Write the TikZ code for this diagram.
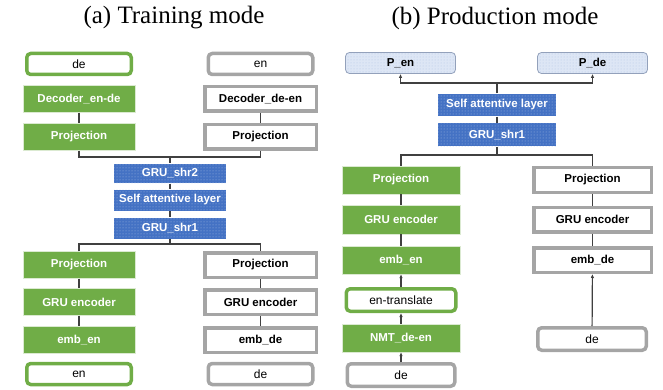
\documentclass[tikz,border=0pt]{standalone}
\usepackage{fontspec}
\setmainfont{Liberation Serif}
\setsansfont{Liberation Sans}
\usetikzlibrary{patterns,arrows.meta}
\definecolor{encgreen}{HTML}{70AD47}
\definecolor{boxgray}{HTML}{A5A5A5}
\definecolor{shrblue}{HTML}{4472C4}
\definecolor{outblue}{HTML}{DDE6F5}
\definecolor{linegray}{HTML}{404040}
\newcommand{\boxfont}{\sffamily\bfseries\fontsize{11.5}{13}\selectfont}
\tikzstyle{gblock} = [fill=encgreen, draw=white!75!encgreen, line width=0.4pt, rectangle, minimum height=27pt, minimum width=112pt, inner sep=2pt, text=white, font=\boxfont]
\tikzstyle{wblock} = [fill=white, draw=boxgray, line width=3.5pt, rectangle, minimum height=24.5pt, minimum width=111.5pt, inner sep=2pt, font=\boxfont]
\tikzstyle{sblock} = [fill=shrblue, postaction={pattern=dots, pattern color=white!50!shrblue}, rectangle, minimum height=21pt, minimum width=112pt, inner sep=2pt, text=white, font=\boxfont]
\tikzstyle{prob} = [fill=outblue, postaction={pattern=dots, pattern color=shrblue!40}, draw=shrblue!45!gray!70, line width=0.8pt, rounded corners=4pt, rectangle, minimum height=21pt, minimum width=110pt, font=\boxfont]
\tikzstyle{title} = [font=\fontsize{25}{29}\selectfont]
\tikzset{word/.style={
    fill=white, draw=#1, line width=3.5pt, rounded corners=4pt,
    minimum height=21pt, minimum width=104.5pt, inner sep=2pt,
    font=\sffamily\fontsize{12}{14}\selectfont
    }
}

\begin{document}
\begin{tikzpicture}[x=1pt, y=1pt, line width=1.2pt, draw=linegray, >={Latex[length=4pt,width=3.5pt]}]
    \useasboundingbox (0,0) rectangle (663,-390);

    % (a) training
    \node [title] (title_a) at (174,-18) {(a) Training mode};
    \node [word=encgreen] (de_a) at (79,-64) {de};
    \node [word=boxgray] (en_a) at (260.5,-64) {en};
    \node [gblock, below of=de_a, node distance=35pt] (dec_a1) {Decoder\_en-de};
    \node [wblock, below of=en_a, node distance=35pt] (dec_a2) {Decoder\_de-en};
    \node [gblock, below of=dec_a1, node distance=38pt] (proj_a1) {Projection};
    \node [wblock, below of=dec_a2, node distance=38pt] (proj_a2) {Projection};

    \node [sblock, minimum height=19pt] (shr2_a) at (170,-173.5) {GRU\_shr2};
    \node [sblock, below of=shr2_a, node distance=26.5pt] (att_a) {Self attentive layer};
    \node [sblock, below of=att_a, node distance=28pt] (shr1_a) {GRU\_shr1};

    \node [gblock] (proj_a3) at (79,-265) {Projection};
    \node [wblock] (proj_a4) at (260.5,-265) {Projection};
    \node [gblock, below of=proj_a3, node distance=37pt] (enc_a3) {GRU encoder};
    \node [wblock, below of=proj_a4, node distance=37pt] (enc_a4) {GRU encoder};
    \node [gblock, below of=enc_a3, node distance=38pt] (emb_a3) {emb\_en};
    \node [wblock, below of=enc_a4, node distance=38pt] (emb_a4) {emb\_de};
    \node [word=encgreen, below of=emb_a3, node distance=34pt] (en_a3) {en};
    \node [word=boxgray, below of=emb_a4, node distance=34pt] (de_a4) {de};

    \node [coordinate] (top_a) at (170,-157) {};
    \node [coordinate] (bot_a) at (170,-244) {};
    \draw (dec_a1) -- (proj_a1);
    \draw (dec_a2) -- (proj_a2);
    \draw (proj_a1.south) |- (top_a) -| (proj_a2.south);
    \draw (top_a) -- (shr2_a);
    \draw (shr2_a) -- (att_a);
    \draw (att_a) -- (shr1_a);
    \draw (shr1_a) -- (bot_a);
    \draw (proj_a3.north) |- (bot_a) -| (proj_a4.north);
    \draw (proj_a3) -- (enc_a3);
    \draw (enc_a3) -- (emb_a3);
    \draw (proj_a4) -- (enc_a4);
    \draw (enc_a4) -- (emb_a4);

    % (b) production
    \node [title] (title_b) at (495,-18) {(b) Production mode};
    \node [prob] (pen_b) at (400.5,-63) {P\_en};
    \node [prob] (pde_b) at (592.5,-63) {P\_de};
    \node [sblock, minimum width=118pt, minimum height=22pt] (att_b) at (497,-105) {Self attentive layer};
    \node [sblock, minimum width=118pt, minimum height=23pt, below of=att_b, node distance=30pt] (shr1_b) {GRU\_shr1};

    \node [gblock, minimum width=118pt, minimum height=28pt] (proj_b1) at (401,-180) {Projection};
    \node [wblock, minimum width=117.5pt] (proj_b2) at (592.5,-180) {Projection};
    \node [gblock, minimum width=118pt, minimum height=29pt, below of=proj_b1, node distance=39.5pt] (enc_b1) {GRU encoder};
    \node [wblock, minimum width=117.5pt, below of=proj_b2, node distance=39.5pt] (enc_b2) {GRU encoder};
    \node [gblock, minimum width=118pt, minimum height=28pt, below of=enc_b1, node distance=40.5pt] (emb_b1) {emb\_en};
    \node [wblock, minimum width=117.5pt, below of=enc_b2, node distance=40.5pt] (emb_b2) {emb\_de};
    \node [word=encgreen, minimum width=109.5pt, minimum height=22.5pt, below of=emb_b1, node distance=40pt] (tr_b1) {en-translate};
    \node [gblock, minimum width=118pt, minimum height=28pt, below of=tr_b1, node distance=38pt] (nmt_b1) {NMT\_de-en};
    \node [word=boxgray, minimum width=107.5pt, minimum height=22.5pt, below of=nmt_b1, node distance=37pt] (de_b1) {de};
    \node [word=boxgray, minimum width=108.5pt, minimum height=22.5pt] (de_b2) at (592,-339) {de};

    \node [coordinate] (top_b) at (497,-83) {};
    \node [coordinate] (bot_b) at (497,-155) {};
    \draw (att_b) -- (top_b);
    \draw [->] (top_b) -| (pen_b);
    \draw [->] (top_b) -| (pde_b);
    \draw (att_b) -- (shr1_b);
    \draw (shr1_b) -- (bot_b);
    \draw (proj_b1.north) |- (bot_b) -| (proj_b2.north);
    \draw (proj_b1) -- (enc_b1);
    \draw (enc_b1) -- (emb_b1);
    \draw (proj_b2) -- (enc_b2);
    \draw (enc_b2) -- (emb_b2);
    \draw [->] (de_b1) -- (nmt_b1);
    \draw [->] (nmt_b1) -- (tr_b1);
    \draw [->] (tr_b1) -- (emb_b1);
    \draw [->] (de_b2) -- (emb_b2);
\end{tikzpicture}
\end{document}
